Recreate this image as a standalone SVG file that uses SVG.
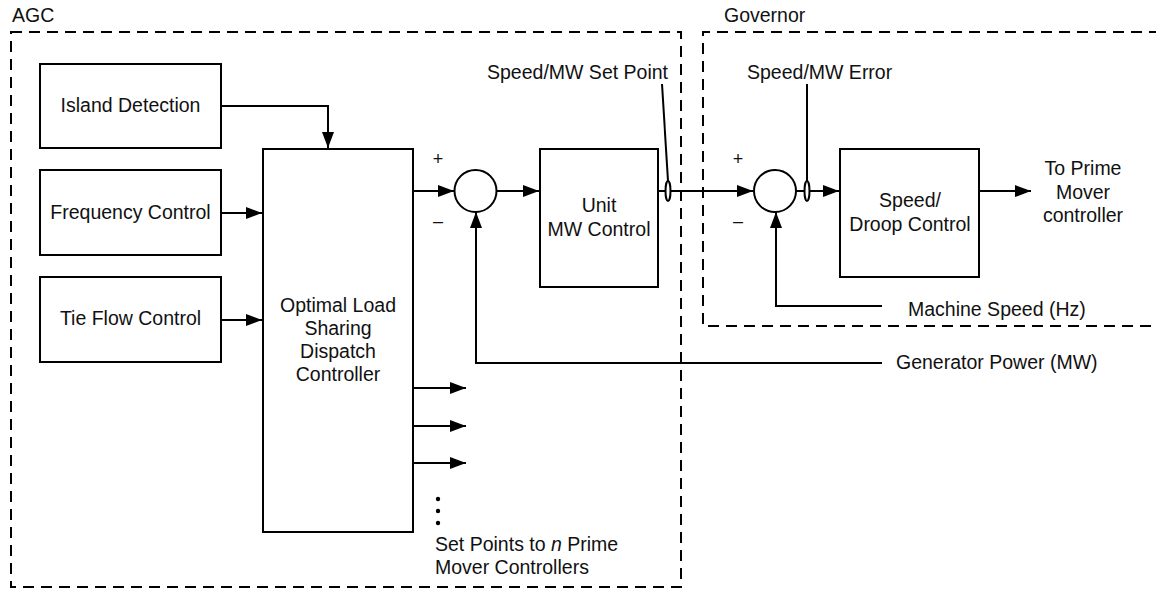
<svg xmlns="http://www.w3.org/2000/svg" width="1156" height="590" viewBox="0 0 1156 590">
<style>
text{font-family:"Liberation Sans",Arial,sans-serif;font-size:19.5px;fill:#111}
.c{text-anchor:middle}
.s{font-size:18px}
.b{fill:#fff;stroke:#000;stroke-width:2}
.d{fill:none;stroke:#000;stroke-width:2;stroke-dasharray:11 7}
.l{fill:none;stroke:#000;stroke-width:2}
.a{fill:none;stroke:#000;stroke-width:2;marker-end:url(#ar)}
</style>
<defs>
<marker id="ar" markerUnits="userSpaceOnUse" markerWidth="18" markerHeight="14" refX="16" refY="6" orient="auto">
<path d="M0,0 L16,6 L0,12 z" fill="#000"/>
</marker>
</defs>
<g id="agc-frame"><rect class="d" x="11" y="32" width="670" height="555"/><text x="12" y="22">AGC</text></g>
<g id="governor-frame"><path class="d" d="M1160,32 H703 V326 H1160"/><text x="724" y="22">Governor</text></g>
<g id="island"><rect class="b" x="40" y="64" width="181" height="84"/><text class="c" x="130.5" y="112">Island Detection</text></g>
<g id="freq"><rect class="b" x="40" y="170" width="181" height="85"/><text class="c" x="130.5" y="219">Frequency Control</text></g>
<g id="tie"><rect class="b" x="40" y="277" width="181" height="85"/><text class="c" x="130.5" y="325">Tie Flow Control</text></g>
<g id="optimal"><rect class="b" x="263" y="149" width="150" height="383"/>
<text class="c" x="338" y="312">Optimal Load</text><text class="c" x="338" y="335">Sharing</text><text class="c" x="338" y="358">Dispatch</text><text class="c" x="338" y="381">Controller</text></g>
<g id="sum1"><circle class="b" cx="475.5" cy="191" r="21"/><text class="c s" x="438" y="165">+</text><text class="c s" x="438" y="227">–</text></g>
<g id="unit"><rect class="b" x="540" y="149" width="118" height="138"/><text class="c" x="599" y="212">Unit</text><text class="c" x="599" y="236">MW Control</text></g>
<g id="sum2"><circle class="b" cx="775" cy="191" r="21"/><text class="c s" x="738" y="165">+</text><text class="c s" x="738" y="227">–</text></g>
<g id="droop"><rect class="b" x="840" y="149" width="139" height="128"/><text class="c" x="910" y="207">Speed/</text><text class="c" x="910" y="231">Droop Control</text></g>
<g id="connectors">
<path class="a" d="M221,106 H328 V148"/>
<path class="a" d="M221,213 H262"/>
<path class="a" d="M221,320 H262"/>
<path class="a" d="M413,191 H454"/>
<path class="a" d="M496.5,191 H539"/>
<path class="a" d="M658,191 H753"/>
<path class="a" d="M796,191 H839"/>
<path class="a" d="M979,191 H1031"/>
<path class="a" d="M882,363 H476 V212"/>
<path class="a" d="M882,306 H776 V212"/>
<path class="a" d="M413,388 H466"/>
<path class="a" d="M413,426 H466"/>
<path class="a" d="M413,463 H466"/>
<ellipse class="b" cx="668" cy="191" rx="2.5" ry="10"/>
<path class="l" d="M668,181 L662,84"/>
<ellipse class="b" cx="807" cy="191" rx="2.5" ry="10"/>
<path class="l" d="M807,181 V84"/>
</g>
<g id="dots" fill="#000"><circle cx="438" cy="499" r="2.2"/><circle cx="438" cy="511" r="2.2"/><circle cx="438" cy="523" r="2.2"/></g>
<g id="labels">
<text x="487" y="79">Speed/MW Set Point</text>
<text x="747" y="79">Speed/MW Error</text>
<text class="c" x="1083" y="175">To Prime</text><text class="c" x="1083" y="199">Mover</text><text class="c" x="1083" y="222">controller</text>
<text x="908" y="316">Machine Speed (Hz)</text>
<text x="896" y="369">Generator Power (MW)</text>
<text x="435" y="551">Set Points to <tspan font-style="italic">n</tspan> Prime</text>
<text x="435" y="574">Mover Controllers</text>
</g>
</svg>
